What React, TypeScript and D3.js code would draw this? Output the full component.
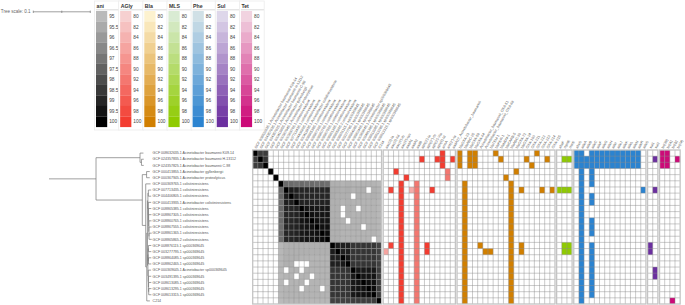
import React from 'react';
import * as d3 from 'd3';

// ---------------- DATA ----------------
const genomes = [
  'GCF 008632635.1 Acinetobacter baumannii K09-14',
  'GCF 024357835.1 Acinetobacter baumannii H-13112',
  'GCF 024357825.1 Acinetobacter baumannii C-98',
  'GCF 000413855.1 Acinetobacter gyllenbergii',
  'GCF 000367945.1 Acinetobacter proteolyticus',
  'GCF 000369765.1 colistiniresistens',
  'GCF 007713435.1 colistiniresistens',
  'GCF 004406805.1 colistiniresistens',
  'GCF 000413935.1 Acinetobacter colistiniresistens',
  'GCF 008865385.1 colistiniresistens',
  'GCF 008867305.1 colistiniresistens',
  'GCF 008860765.1 colistiniresistens',
  'GCF 008867555.1 colistiniresistens',
  'GCF 008861365.1 colistiniresistens',
  'GCF 008865865.2 colistiniresistens',
  'GCF 008876115.1 sp000369645',
  'GCF 003277795.1 sp000369645',
  'GCF 008864085.1 sp000369645',
  'GCF 008862465.1 sp000369645',
  'GCF 000369645.1 Acinetobacter sp000369645',
  'GCF 003491395.1 sp000369645',
  'GCF 008613085.1 sp000369645',
  'GCF 008613295.1 sp000369645',
  'GCF 008613315.1 sp000369645',
  'C214',
];

// ANI matrix (rows x cols), values < 95 are drawn white
const aniRows: number[][] = [
  [100, 98.4, 98.4, 80, 80, 80, 80, 80, 80, 80, 80, 80, 80, 80, 80, 80, 80, 80, 80, 80, 80, 80, 80, 80, 80],
  [98.4, 100, 98.6, 80, 80, 80, 80, 80, 80, 80, 80, 80, 80, 80, 80, 80, 80, 80, 80, 80, 80, 80, 80, 80, 80],
  [98.4, 98.6, 100, 80, 80, 80, 80, 80, 80, 80, 80, 80, 80, 80, 80, 80, 80, 80, 80, 80, 80, 80, 80, 80, 80],
  [80, 80, 80, 100, 80, 80, 80, 80, 80, 80, 80, 80, 80, 80, 80, 80, 80, 80, 80, 80, 80, 80, 80, 80, 80],
  [80, 80, 80, 80, 100, 80, 80, 80, 80, 80, 80, 80, 80, 80, 80, 80, 80, 80, 80, 80, 80, 80, 80, 80, 80],
  [80, 80, 80, 80, 80, 100, 97.3, 97.3, 97.2, 97.3, 97.2, 97.3, 97.2, 97.3, 97.2, 95.3, 95.3, 95.2, 95.3, 95.2, 95.2, 95.2, 95.2, 95.2, 95.1],
  [80, 80, 80, 80, 80, 97.3, 100, 99.3, 99.2, 99.0, 99.0, 99.0, 99.0, 99.0, 99.0, 95.4, 95.4, 95.3, 95.4, 95.2, 95.3, 95.3, 80, 95.3, 95.2],
  [80, 80, 80, 80, 80, 97.3, 99.3, 100, 99.2, 99.0, 99.0, 99.0, 99.0, 99.0, 99.0, 95.4, 95.3, 95.3, 95.3, 80, 95.3, 95.2, 95.2, 95.3, 95.2],
  [80, 80, 80, 80, 80, 97.2, 99.2, 99.2, 100, 99.1, 99.1, 99.1, 99.1, 99.1, 99.1, 95.3, 95.3, 95.2, 95.3, 95.2, 95.2, 95.2, 95.2, 95.2, 95.1],
  [80, 80, 80, 80, 80, 97.3, 99.0, 99.0, 99.1, 100, 99.5, 99.5, 99.4, 99.4, 99.4, 95.3, 95.3, 80, 95.3, 95.2, 80, 95.2, 95.2, 95.2, 95.1],
  [80, 80, 80, 80, 80, 97.2, 99.0, 99.0, 99.1, 99.5, 100, 99.6, 99.5, 99.5, 99.5, 95.3, 95.3, 80, 95.3, 95.2, 95.2, 95.2, 95.2, 95.2, 95.1],
  [80, 80, 80, 80, 80, 97.3, 99.0, 99.0, 99.1, 99.5, 99.6, 100, 99.6, 99.5, 99.5, 95.3, 95.3, 95.2, 80, 95.2, 95.2, 95.2, 95.2, 95.2, 95.1],
  [80, 80, 80, 80, 80, 97.2, 99.0, 99.0, 99.1, 99.4, 99.5, 99.6, 100, 99.6, 99.6, 95.3, 95.3, 95.2, 95.2, 95.2, 95.2, 80, 95.2, 95.2, 95.1],
  [80, 80, 80, 80, 80, 97.3, 99.0, 99.0, 99.1, 99.4, 99.5, 99.5, 99.6, 100, 99.7, 95.3, 95.3, 95.2, 95.2, 95.2, 95.2, 95.2, 95.2, 95.2, 95.1],
  [80, 80, 80, 80, 80, 97.2, 99.0, 99.0, 99.1, 99.4, 99.5, 99.5, 99.6, 99.7, 100, 95.3, 95.3, 95.2, 95.2, 95.2, 95.2, 95.2, 95.2, 80, 95.1],
  [80, 80, 80, 80, 80, 95.1, 95.3, 95.3, 95.3, 95.3, 95.3, 95.3, 95.3, 95.3, 95.3, 100, 99.3, 99.2, 99.2, 98.6, 98.6, 98.6, 98.6, 98.6, 98.3],
  [80, 80, 80, 80, 80, 95.1, 95.3, 95.3, 95.3, 95.3, 95.3, 95.3, 95.3, 95.3, 95.3, 99.3, 100, 99.2, 99.2, 98.6, 98.6, 98.6, 98.6, 98.6, 98.3],
  [80, 80, 80, 80, 80, 95.1, 95.3, 95.3, 95.3, 95.2, 95.2, 95.2, 95.2, 95.2, 95.2, 99.2, 99.2, 100, 99.4, 98.6, 98.6, 98.6, 98.6, 98.6, 98.3],
  [80, 80, 80, 80, 80, 95.1, 95.3, 95.3, 80, 80, 80, 95.2, 95.2, 95.2, 95.2, 99.2, 99.2, 99.4, 100, 98.6, 98.6, 98.6, 98.6, 98.6, 98.3],
  [80, 80, 80, 80, 80, 95.1, 80, 95.2, 95.2, 80, 95.2, 95.2, 95.2, 95.2, 95.2, 98.6, 98.6, 98.6, 98.6, 100, 99.4, 99.4, 99.4, 99.4, 98.4],
  [80, 80, 80, 80, 80, 95.1, 95.2, 95.2, 80, 95.2, 95.2, 80, 95.2, 95.2, 95.2, 98.6, 98.6, 98.6, 98.6, 99.4, 100, 99.5, 99.5, 99.5, 98.4],
  [80, 80, 80, 80, 80, 95.1, 80, 95.2, 95.2, 95.2, 80, 95.2, 95.2, 95.2, 95.2, 98.6, 98.6, 98.6, 98.6, 99.4, 99.5, 100, 99.6, 99.6, 98.4],
  [80, 80, 80, 80, 80, 95.1, 95.2, 95.2, 95.2, 80, 95.2, 95.2, 95.2, 80, 95.2, 98.6, 98.6, 98.6, 98.6, 99.4, 99.5, 99.6, 100, 99.7, 98.4],
  [80, 80, 80, 80, 80, 95.1, 95.2, 95.2, 95.2, 95.2, 95.2, 95.2, 95.2, 95.2, 95.2, 98.6, 98.6, 98.6, 98.6, 99.4, 99.5, 99.6, 99.7, 100, 98.4],
  [80, 80, 80, 80, 80, 95.0, 95.1, 95.1, 95.1, 95.1, 95.1, 95.1, 95.1, 95.1, 95.1, 98.3, 98.3, 98.3, 98.3, 98.4, 98.4, 98.4, 98.4, 98.4, 100],
];

// gene columns per drug class
const aglyGenes = ["aac(3)-Ia", "aac(3)-IId", "aac(6')-Ib", "aac(6')-Ian", 'aadA1', 'aadA2', 'aadB', "aph(3')-Ia", "aph(3'')-Ib", "aph(3')-VIa", 'aph(6)-Id', 'armA', "ant(2'')-Ia", 'aadA27_Acinetobacter_baumannii'];
const blaGenes = ['blaOXA-23', 'blaADC-25', 'blaOXA-58', 'blaOXA-64', 'Acinetobacter_baumannii_OXA-51', 'Acinetobacter_baumannii_OXA-69', 'blaTEM-1', 'blaPER-1', 'blaNDM-1', 'blaCARB-5', 'blaADC-30', 'blaOXA-72', 'blaOXA-24', 'OXA-100', 'OXA-211', 'OXA-212', 'OXA-213', 'OXA-214', 'OXA-215'];
const mlsGenes = ['abaF', 'mphE', 'msrE'];
const pheGenes = ['abeS', 'adeA', 'adeB', 'adeC', 'adeF', 'adeG', 'adeH', 'adeI', 'adeJ', 'adeK', 'adeL', 'adeN', 'adeR', 'adeS'];
const sulGenes = ['sul1', 'sul2'];
const tetGenes = ['tet(39)', 'tet(A)', 'tet(B)', 'tet(M)'];

// runs of presence: [column, firstRow, lastRow, identity]
const aglyRuns: number[][] = [
  [11, 0, 2, 100], [7, 1, 1, 100], [10, 1, 1, 100], [13, 1, 1, 100], [2, 3, 3, 100], [12, 3, 4, 92],
  [4, 4, 4, 100], [3, 5, 24, 100], [6, 5, 24, 92], [1, 6, 6, 99], [5, 6, 6, 85], [9, 6, 6, 100],
  [1, 15, 15, 99], [8, 15, 16, 100], [0, 16, 16, 86],
];
const blaRuns: number[][] = [
  [0, 0, 2, 100], [2, 0, 2, 100], [3, 0, 2, 100], [7, 0, 0, 100], [15, 0, 0, 100], [8, 1, 1, 100],
  [13, 1, 1, 100], [17, 1, 1, 100], [14, 2, 2, 100], [11, 3, 3, 100], [9, 4, 4, 100], [1, 5, 24, 100],
  [10, 5, 24, 100], [12, 6, 6, 100], [16, 6, 6, 100], [18, 6, 6, 100], [4, 15, 15, 100], [12, 15, 16, 100],
  [5, 16, 16, 100], [6, 16, 16, 100],
];
const mlsRuns: number[][] = [
  [1, 1, 1, 100], [2, 1, 1, 100], [0, 6, 6, 100], [1, 6, 6, 100], [2, 6, 6, 100], [1, 15, 16, 100], [2, 15, 16, 100],
];
const pheRuns: number[][] = [
  [0, 0, 2, 100], [1, 0, 24, 100], [2, 1, 2, 100], [3, 0, 5, 100], [3, 7, 8, 100], [3, 11, 13, 100], [3, 15, 23, 100],
  [4, 0, 2, 100], [5, 0, 2, 100], [6, 0, 2, 100], [7, 0, 2, 100], [8, 0, 2, 100], [9, 0, 2, 100], [10, 0, 2, 100],
  [11, 0, 2, 100], [12, 0, 2, 100], [13, 6, 6, 100],
];
const sulRuns: number[][] = [[1, 1, 1, 100], [1, 6, 6, 100], [0, 15, 16, 100], [1, 19, 20, 100]];
const tetRuns: number[][] = [[0, 0, 2, 100], [1, 0, 2, 100], [3, 1, 1, 100], [2, 24, 24, 100]];

// legend
const aniTicks = ['95', '95.5', '96', '96.5', '97', '97.5', '98', '98.5', '99', '99.5', '100'];
const geneTicks = ['80', '82', '84', '86', '88', '90', '92', '94', '96', '98', '100'];
const aniColors = ['#bababa', '#aaaaaa', '#999999', '#888888', '#767676', '#626262', '#4d4d4d', '#393939', '#262626', '#141414', '#000000'];
const classColors: Record<string, [string, string]> = {
  AGly: ['#f6d0d0', '#f33c30'],
  Bla: ['#fdf2cf', '#d17f00'],
  MLS: ['#d9ebd3', '#8fcb00'],
  Phe: ['#d0e0e6', '#2b83d0'],
  Sul: ['#ded7ea', '#6b2f9f'],
  Tet: ['#f1d3e0', '#cc0a78'],
};

// tree (branch lengths)
type TNode = { len: number; leaf?: number; children?: TNode[] };
const L = (leaf: number, len: number): TNode => ({ leaf, len });
const N = (len: number, ...children: TNode[]): TNode => ({ len, children });
const treeData: TNode = N(0.0825,
  N(0.0772, L(0, 0.006), N(0.0025, L(1, 0.004), L(2, 0.004))),
  N(0.0812,
    N(0.0075, L(3, 0.0055), L(4, 0.0055)),
    N(0.006,
      L(5, 0.0085),
      N(0.0018,
        N(0.0012,
          N(0.0008,
            N(0.0008, L(6, 0.005), L(7, 0.005)),
            N(0.0006, L(8, 0.0052), N(0.0004, L(9, 0.005), N(0.0003, L(10, 0.005), N(0.0003, L(11, 0.0048), N(0.0002, L(12, 0.0048), N(0.0002, L(13, 0.0047), L(14, 0.0047)))))))),
          N(0.0008,
            N(0.0006, N(0.0004, L(15, 0.005), L(16, 0.005)), N(0.0004, L(17, 0.005), L(18, 0.005))),
            N(0.0006, L(19, 0.005), N(0.0003, L(20, 0.005), N(0.0003, L(21, 0.0048), N(0.0002, L(22, 0.0048), L(23, 0.0048))))))),
        L(24, 0.0055)))));

// ---------------- LAYOUT ----------------
const FONT = "'Liberation Sans', Arial, sans-serif";
const gridTop = 150;
const rowH = 6.16;
const cellW = 5.155;
const secGap = 1.65;
const gridLeft = 252.7;
const treeX0 = 49;
const treePx = 570; // px per unit branch length
const labelX = 152.6;

export default function App() {
  const nRows = genomes.length;
  const y = d3.scaleBand<number>().domain(d3.range(nRows)).range([gridTop, gridTop + nRows * rowH]);

  const sections = [
    { key: 'ani', cols: genomes, runs: [] as number[][] },
    { key: 'AGly', cols: aglyGenes, runs: aglyRuns },
    { key: 'Bla', cols: blaGenes, runs: blaRuns },
    { key: 'MLS', cols: mlsGenes, runs: mlsRuns },
    { key: 'Phe', cols: pheGenes, runs: pheRuns },
    { key: 'Sul', cols: sulGenes, runs: sulRuns },
    { key: 'Tet', cols: tetGenes, runs: tetRuns },
  ];
  let acc = gridLeft;
  const secs = sections.map((s) => {
    const start = acc;
    const end = start + s.cols.length * cellW;
    acc = end + secGap;
    const x = d3.scaleBand<number>().domain(d3.range(s.cols.length)).range([start, end]);
    return { ...s, start, end, x };
  });

  const aniColor = d3.scaleLinear<string>().domain(aniTicks.map(Number)).range(aniColors).clamp(true);
  const geneColor = (k: string) => d3.scaleLinear<string>().domain([80, 100]).range(classColors[k]).interpolate(d3.interpolateRgb);

  // tree layout
  const root = d3.hierarchy<TNode>(treeData, (d) => d.children);
  const px = new Map<any, number>();
  const py = new Map<any, number>();
  root.each((n) => {
    const parentX = n.parent ? (px.get(n.parent) as number) : treeX0;
    px.set(n, parentX + n.data.len * treePx);
  });
  root.eachAfter((n) => {
    if (n.children && n.children.length) {
      const ys = n.children.map((c) => py.get(c) as number);
      py.set(n, (ys[0] + ys[ys.length - 1]) / 2);
    } else {
      py.set(n, (y(n.data.leaf as number) as number) + rowH / 2);
    }
  });
  const treeLines: { x1: number; y1: number; x2: number; y2: number }[] = [];
  root.each((n) => {
    const parentX = n.parent ? (px.get(n.parent) as number) : treeX0;
    treeLines.push({ x1: parentX, y1: py.get(n)!, x2: px.get(n)!, y2: py.get(n)! });
    if (n.children) {
      const ys = n.children.map((c) => py.get(c) as number);
      treeLines.push({ x1: px.get(n)!, y1: ys[0], x2: px.get(n)!, y2: ys[ys.length - 1] });
    }
  });

  // legend layout
  const legendCols = ['ani', 'AGly', 'Bla', 'MLS', 'Phe', 'Sul', 'Tet'];
  const legX = d3.scaleBand<string>().domain(legendCols).range([96, 96 + 7 * 24.15]);
  const legY = d3.scaleBand<number>().domain(d3.range(11)).range([11, 127]);

  const cells: JSX.Element[] = [];
  const gridLines: JSX.Element[] = [];
  const colLabels: JSX.Element[] = [];

  secs.forEach((s) => {
    if (s.key === 'ani') {
      aniRows.forEach((row, r) =>
        row.forEach((v, c) => {
          if (v < 95) return;
          cells.push(
            <rect key={`a${r}-${c}`} x={s.x(c)} y={y(r)} width={s.x.bandwidth()} height={rowH} fill={aniColor(v)} />
          );
        })
      );
    } else {
      const col = geneColor(s.key);
      s.runs.forEach(([c, r0, r1, v], i) => {
        cells.push(
          <rect key={`${s.key}${i}`} x={s.x(c)} y={y(r0)} width={s.x.bandwidth()} height={(y(r1) as number) - (y(r0) as number) + rowH} fill={col(v)} />
        );
      });
    }
    // grid
    s.cols.forEach((_, c) => {
      if (c > 0) {
        const xx = s.x(c) as number;
        gridLines.push(<line key={`${s.key}v${c}`} x1={xx} x2={xx} y1={gridTop} y2={gridTop + nRows * rowH} />);
      }
    });
    d3.range(1, nRows).forEach((r) => {
      const yy = y(r) as number;
      gridLines.push(<line key={`${s.key}h${r}`} x1={s.start} x2={s.end} y1={yy} y2={yy} />);
    });
    // column labels
    s.cols.forEach((name, c) => {
      const cx = (s.x(c) as number) + cellW / 2 + 1.2;
      colLabels.push(
        <text key={`${s.key}l${c}`} transform={`translate(${cx},${gridTop - 1.2}) rotate(-60)`} fontSize={3.55} fill="#555">
          {name}
        </text>
      );
    });
  });

  return (
    <svg width={685} height={305} style={{ position: 'absolute', left: 0, top: 0, background: '#fff' }} fontFamily={FONT}>
      <rect x={0} y={0} width={685} height={305} fill="#fff" />
      {/* tree scale */}
      <text x={0.8} y={13.2} fontSize={4.5} fill="#666">Tree scale: 0.1</text>
      <g stroke="#777" strokeWidth={0.7}>
        <line x1={treeX0 - 15.7} x2={treeX0 - 15.7 + 0.1 * treePx} y1={11.8} y2={11.8} />
        {[0, 0.05, 0.1].map((t) => (
          <line key={t} x1={treeX0 - 15.7 + t * treePx} x2={treeX0 - 15.7 + t * treePx} y1={10.6} y2={13} />
        ))}
      </g>

      {/* legend */}
      {legendCols.map((k) => {
        const x0 = legX(k) as number;
        const colors = k === 'ani' ? aniColors : d3.range(11).map((i) => geneColor(k)(80 + i * 2));
        const ticks = k === 'ani' ? aniTicks : geneTicks;
        return (
          <g key={k}>
            <rect x={x0 - 1.5} y={1} width={24.8} height={129} fill="#fff" stroke="#ececec" strokeWidth={0.8} />
            <text x={x0 + 0.5} y={7.6} fontSize={5.2} fontWeight="bold" fill="#333">{k}</text>
            <line x1={x0} x2={x0 + 23} y1={9.8} y2={9.8} stroke="#cfcfcf" strokeWidth={0.8} />
            {colors.map((cc, i) => (
              <rect key={i} x={x0} y={legY(i)} width={11.2} height={legY.bandwidth() + 0.1} fill={cc} />
            ))}
            {ticks.map((t, i) => (
              <text key={t} x={x0 + 13.2} y={(legY(i) as number) + legY.bandwidth() / 2 + 1.7} fontSize={4.8} fill="#444">{t}</text>
            ))}
          </g>
        );
      })}

      {/* tree */}
      <g stroke="#777" strokeWidth={0.7} fill="none">
        {treeLines.map((l, i) => (
          <line key={i} x1={l.x1} y1={l.y1} x2={l.x2} y2={l.y2} />
        ))}
      </g>

      {/* row labels */}
      {genomes.map((g, r) => (
        <text key={g} x={labelX} y={(y(r) as number) + rowH / 2 + 1.25} fontSize={3.55} fill="#555">{g}</text>
      ))}

      {/* matrix */}
      {cells}
      <g stroke="#8a8a8a" strokeWidth={0.45}>{gridLines}</g>
      {secs.map((s) => (
        <rect key={s.key} x={s.start} y={gridTop} width={s.end - s.start} height={nRows * rowH} fill="none" stroke="#c4c4c4" strokeWidth={1.3} />
      ))}
      {colLabels}
    </svg>
  );
}
